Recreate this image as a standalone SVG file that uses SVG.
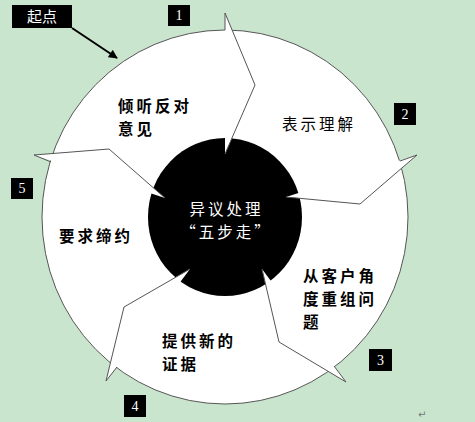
<svg xmlns="http://www.w3.org/2000/svg" width="475" height="422" viewBox="0 0 475 422">
<style>
.seg{font-family:"Noto Sans CJK SC","Noto Sans",sans-serif;font-size:15.5px;font-weight:bold;letter-spacing:3px;fill:#000;}
.thin{font-weight:normal;}
.ctr{font-family:"Noto Sans CJK SC","Noto Sans",sans-serif;font-size:15.5px;letter-spacing:3px;fill:#fff;}
.box{fill:#000;}
.num{font-family:"Liberation Serif",serif;font-size:14px;fill:#fff;text-anchor:middle;}
.edge{fill:none;stroke:#555;stroke-width:1;stroke-linejoin:miter;}
.barb{fill:#fff;stroke:none;}
</style>
<defs>
<marker id="ah" viewBox="0 0 10 10" refX="9" refY="5" markerWidth="5" markerHeight="4.5" orient="auto" markerUnits="strokeWidth">
<path d="M0,0 L10,5 L0,10 z" fill="#000"/>
</marker>
</defs>
<rect width="475" height="422" fill="#CAE5CD"/>
<g id="ring">
<ellipse cx="225" cy="217" rx="183" ry="187" fill="#fff" stroke="#555" stroke-width="1"/>
<ellipse cx="225" cy="217" rx="77" ry="79" fill="#000"/>
<polygon class="barb" points="225,13 255,85 225,154"/>
<polygon class="barb" points="417,155 360,204 286,197"/>
<polygon class="barb" points="346,382 279,342 262,269"/>
<polygon class="barb" points="106,381 124,307 190,269"/>
<polygon class="barb" points="34,155 109,149 165,198"/>
<polyline class="edge" points="225,30 225,13 255,85 225,154"/>
<polyline class="edge" points="400,161 417,155 360,204 286,197"/>
<polyline class="edge" points="334,366 346,382 279,342 262,269"/>
<polyline class="edge" points="117,367 106,381 124,307 190,269"/>
<polyline class="edge" points="51,162 34,155 109,149 165,198"/>
</g>
<g id="center">
<text class="ctr" x="226.5" y="214.5" text-anchor="middle">异议处理</text>
<text class="ctr" x="226.5" y="237.5" text-anchor="middle">“五步走”</text>
</g>
<g id="step1">
<text class="seg" x="118" y="112">倾听反对</text>
<text class="seg" x="118" y="135">意见</text>
</g>
<g id="step2">
<text class="seg thin" x="282" y="129.5">表示理解</text>
</g>
<g id="step3">
<text class="seg" x="303" y="281.5">从客户角</text>
<text class="seg" x="303" y="304.5">度重组问</text>
<text class="seg" x="303" y="327.5">题</text>
</g>
<g id="step4">
<text class="seg" x="162" y="346.5">提供新的</text>
<text class="seg" x="162" y="369.5">证据</text>
</g>
<g id="step5">
<text class="seg" x="59" y="242">要求缔约</text>
</g>
<g id="start">
<rect class="box" x="12" y="5" width="60" height="23"/>
<text x="42" y="22" text-anchor="middle" font-family="Noto Sans CJK SC, Noto Sans, sans-serif" font-size="15" fill="#fff">起点</text>
</g>
<g id="n1"><rect class="box" x="168" y="5" width="22" height="21"/><text class="num" x="179" y="20">1</text></g>
<g id="n2"><rect class="box" x="394" y="103" width="22" height="22"/><text class="num" x="405" y="119">2</text></g>
<g id="n3"><rect class="box" x="369" y="349" width="23" height="22"/><text class="num" x="380.5" y="365">3</text></g>
<g id="n4"><rect class="box" x="124" y="395" width="22" height="22"/><text class="num" x="135" y="411">4</text></g>
<g id="n5"><rect class="box" x="11" y="178" width="22" height="21"/><text class="num" x="22" y="193">5</text></g>
<g id="connectors">
<line x1="72" y1="28" x2="117" y2="58" stroke="#000" stroke-width="2" marker-end="url(#ah)"/>
</g>
<text x="418" y="418" font-family="DejaVu Sans, sans-serif" font-size="10" fill="#777">↵</text>
</svg>
